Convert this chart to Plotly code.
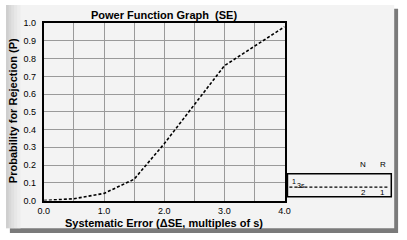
import plotly.graph_objects as go

# Data
se_values = [0.0, 0.5, 1.0, 1.5, 2.0, 2.5, 3.0, 3.5, 4.0]
p_reject = [0.0, 0.01, 0.04, 0.12, 0.32, 0.54, 0.76, 0.87, 0.98]
x_tick_vals = [0.0, 0.5, 1.0, 1.5, 2.0, 2.5, 3.0, 3.5, 4.0]
x_tick_text = ["0.0", "", "1.0", "", "2.0", "", "3.0", "", "4.0"]
y_tick_vals = [0.0, 0.1, 0.2, 0.3, 0.4, 0.5, 0.6, 0.7, 0.8, 0.9, 1.0]
y_tick_text = ["0.0", "0.1", "0.2", "0.3", "0.4", "0.5", "0.6", "0.7", "0.8", "0.9", "1.0"]
legend_rule = ("1", "3s")
legend_n = "2"
legend_r = "1"

W, H = 407, 240
def px(x):
    return x / W
def py(y):
    return 1 - y / H

FONT = "Liberation Sans, Arial, sans-serif"

fig = go.Figure()
fig.add_trace(go.Scatter(
    x=se_values, y=p_reject, mode="lines",
    line=dict(color="black", width=1.6, dash="3px,2px"),
    showlegend=False, hoverinfo="skip",
))

shapes = []
# drop shadow and page
shapes.append(dict(type="rect", xref="paper", yref="paper", layer="below",
                   x0=px(4), x1=px(404), y0=py(238), y1=py(4),
                   fillcolor="#7a7a7a", line=dict(width=0)))
shapes.append(dict(type="rect", xref="paper", yref="paper", layer="below",
                   x0=px(0), x1=px(400), y0=py(233), y1=py(0),
                   fillcolor="#f3f3f3", line=dict(width=0)))
# textured left strip
for i, c in enumerate(["#cfcfcf", "#d8d8d8", "#e0e0e0", "#e7e7e7", "#ededed"]):
    shapes.append(dict(type="rect", xref="paper", yref="paper", layer="below",
                       x0=px(i * 3), x1=px(i * 3 + 3), y0=py(233), y1=py(0),
                       fillcolor=c, line=dict(width=0)))
# legend box
shapes.append(dict(type="rect", xref="paper", yref="paper",
                   x0=px(290), x1=px(397), y0=py(200), y1=py(176),
                   fillcolor="rgba(0,0,0,0)", line=dict(color="black", width=1.5)))
shapes.append(dict(type="line", xref="paper", yref="paper",
                   x0=px(292), x1=px(395), y0=py(190), y1=py(190),
                   line=dict(color="black", width=1.4, dash="3px,2px")))

annotations = [
    dict(text="<b>Power Function Graph  (SE)</b>", x=px(163), y=py(10), xref="paper", yref="paper",
         showarrow=False, font=dict(size=11, color="black", family=FONT), xanchor="center", yanchor="middle"),
    dict(text="<b>Probability for Rejection (P)</b>", x=px(8), y=py(110), xref="paper", yref="paper",
         showarrow=False, textangle=-90, font=dict(size=11, color="black", family=FONT),
         xanchor="center", yanchor="middle"),
    dict(text="<b>Systematic Error (ΔSE, multiples of s)</b>", x=px(163), y=py(227), xref="paper", yref="paper",
         showarrow=False, font=dict(size=11, color="black", family=FONT), xanchor="center", yanchor="middle"),
    dict(text="N", x=px(368), y=py(166), xref="paper", yref="paper", showarrow=False,
         font=dict(size=8, color="black", family=FONT), xanchor="center", yanchor="middle"),
    dict(text="R", x=px(388), y=py(166), xref="paper", yref="paper", showarrow=False,
         font=dict(size=8, color="black", family=FONT), xanchor="center", yanchor="middle"),
    dict(text=legend_rule[0], x=px(293), y=py(184), xref="paper", yref="paper", showarrow=False,
         font=dict(size=7, color="black", family=FONT), xanchor="left", yanchor="middle"),
    dict(text=legend_rule[1], x=px(298), y=py(188), xref="paper", yref="paper", showarrow=False,
         font=dict(size=7, color="black", family=FONT), xanchor="left", yanchor="middle"),
    dict(text=legend_n, x=px(368), y=py(196), xref="paper", yref="paper", showarrow=False,
         font=dict(size=8, color="black", family=FONT), xanchor="center", yanchor="middle"),
    dict(text=legend_r, x=px(388), y=py(196), xref="paper", yref="paper", showarrow=False,
         font=dict(size=8, color="black", family=FONT), xanchor="center", yanchor="middle"),
]

fig.update_layout(
    width=W, height=H,
    margin=dict(l=0, r=0, t=0, b=0),
    paper_bgcolor="white",
    plot_bgcolor="#f3f3f3",
    shapes=shapes,
    annotations=annotations,
    xaxis=dict(domain=[px(39), px(287)], range=[0, 4], tickvals=x_tick_vals, ticktext=x_tick_text,
               showgrid=True, gridcolor="#9a9a9a", gridwidth=1, zeroline=False,
               showline=True, mirror=True, linecolor="black", linewidth=2,
               ticks="outside", ticklen=1, tickcolor="rgba(0,0,0,0)",
               tickfont=dict(size=9, color="black", family=FONT), fixedrange=True),
    yaxis=dict(domain=[py(204), py(19)], range=[0, 1], tickvals=y_tick_vals, ticktext=y_tick_text,
               showgrid=True, gridcolor="#9a9a9a", gridwidth=1, zeroline=False,
               showline=True, mirror=True, linecolor="black", linewidth=2,
               ticks="outside", ticklen=4, tickcolor="rgba(0,0,0,0)",
               tickfont=dict(size=9, color="black", family=FONT), fixedrange=True),
)

fig.write_html("out.html")
